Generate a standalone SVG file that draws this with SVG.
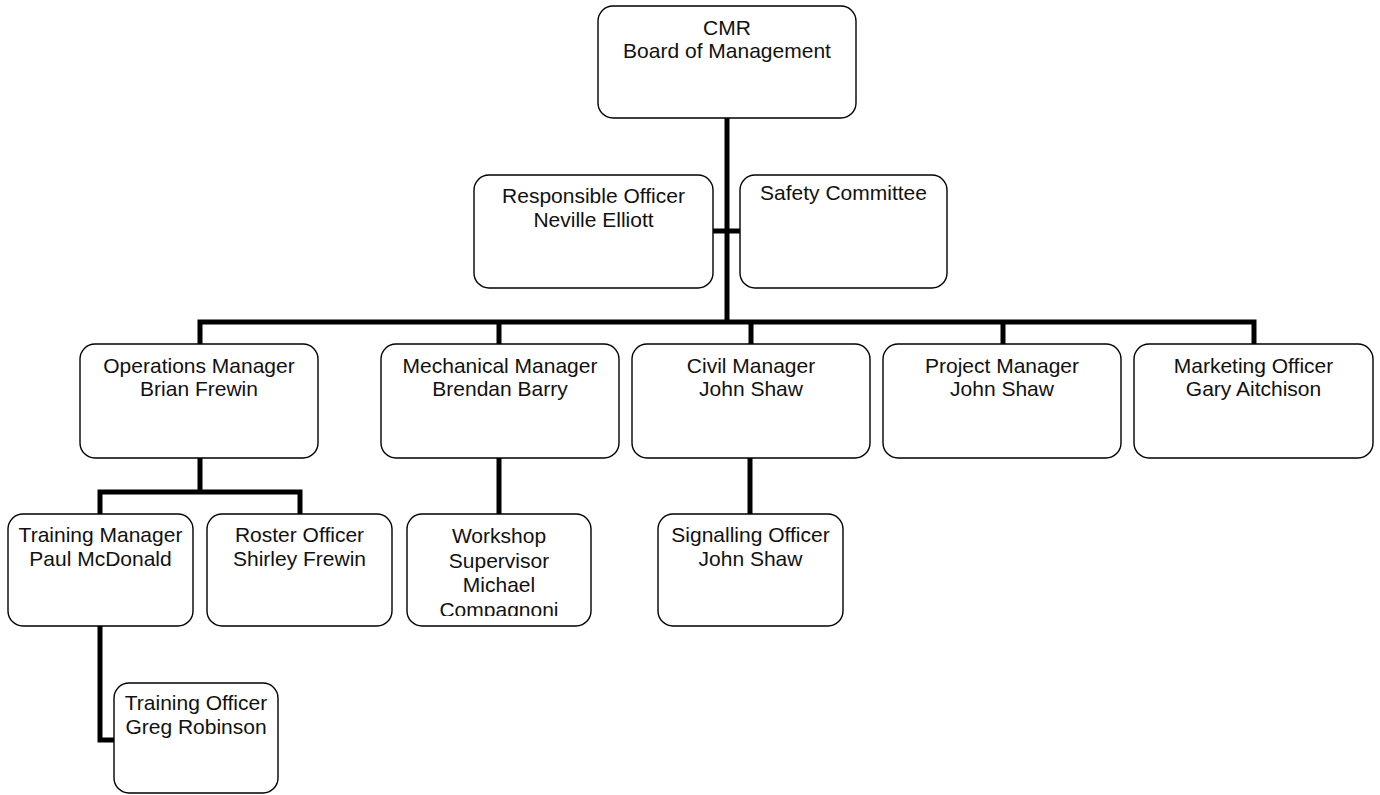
<svg xmlns="http://www.w3.org/2000/svg" width="1380" height="795" viewBox="0 0 1380 795">
<defs>
<style>
.box{fill:#fff;stroke:#000;stroke-width:1.4}
.t{font-family:"Liberation Sans",Arial,sans-serif;font-size:21px;fill:#111;text-anchor:middle}
.c{fill:none;stroke:#000;stroke-width:5;stroke-linejoin:miter;stroke-linecap:butt}
</style>
<clipPath id="wsclip"><rect x="407" y="514" width="184" height="102"/></clipPath>
</defs>
<rect width="1380" height="795" fill="#fff"/>
<g id="connectors">
<path class="c" d="M727,118 V322"/>
<path class="c" d="M713,231 H740"/>
<path class="c" d="M200,344 V322 H1254 V344"/>
<path class="c" d="M499,322 V344"/>
<path class="c" d="M751,322 V344"/>
<path class="c" d="M1003,322 V344"/>
<path class="c" d="M200,458 V492"/>
<path class="c" d="M100,514 V492 H300 V514"/>
<path class="c" d="M100,626 V740 H114"/>
<path class="c" d="M499,458 V514"/>
<path class="c" d="M750,458 V514"/>
</g>
<g id="cmr"><rect class="box" x="598" y="6" width="258" height="112" rx="15"/><text class="t" x="727" y="35">CMR</text><text class="t" x="727" y="58">Board of Management</text></g>
<g id="responsible"><rect class="box" x="474" y="175" width="239" height="113" rx="15"/><text class="t" x="593.5" y="203">Responsible Officer</text><text class="t" x="593.5" y="227">Neville Elliott</text></g>
<g id="safety"><rect class="box" x="740" y="175" width="207" height="113" rx="15"/><text class="t" x="843.5" y="200">Safety Committee</text></g>
<g id="operations"><rect class="box" x="80" y="344" width="238" height="114" rx="15"/><text class="t" x="199" y="373">Operations Manager</text><text class="t" x="199" y="396">Brian Frewin</text></g>
<g id="mechanical"><rect class="box" x="381" y="344" width="238" height="114" rx="15"/><text class="t" x="500" y="373">Mechanical Manager</text><text class="t" x="500" y="396">Brendan Barry</text></g>
<g id="civil"><rect class="box" x="632" y="344" width="238" height="114" rx="15"/><text class="t" x="751" y="373">Civil Manager</text><text class="t" x="751" y="396">John Shaw</text></g>
<g id="project"><rect class="box" x="883" y="344" width="238" height="114" rx="15"/><text class="t" x="1002" y="373">Project Manager</text><text class="t" x="1002" y="396">John Shaw</text></g>
<g id="marketing"><rect class="box" x="1134" y="344" width="239" height="114" rx="15"/><text class="t" x="1253.5" y="373">Marketing Officer</text><text class="t" x="1253.5" y="396">Gary Aitchison</text></g>
<g id="training-manager"><rect class="box" x="8" y="514" width="185" height="112" rx="15"/><text class="t" x="100.5" y="542">Training Manager</text><text class="t" x="100.5" y="566">Paul McDonald</text></g>
<g id="roster"><rect class="box" x="207" y="514" width="185" height="112" rx="15"/><text class="t" x="299.5" y="542">Roster Officer</text><text class="t" x="299.5" y="566">Shirley Frewin</text></g>
<g id="workshop"><rect class="box" x="407" y="514" width="184" height="112" rx="15"/><g clip-path="url(#wsclip)"><text class="t" x="499" y="543">Workshop</text><text class="t" x="499" y="568">Supervisor</text><text class="t" x="499" y="592">Michael</text><text class="t" x="499" y="617">Compagnoni</text></g></g>
<g id="signalling"><rect class="box" x="658" y="514" width="185" height="112" rx="15"/><text class="t" x="750.5" y="542">Signalling Officer</text><text class="t" x="750.5" y="566">John Shaw</text></g>
<g id="training-officer"><rect class="box" x="114" y="683" width="164" height="110" rx="15"/><text class="t" x="196" y="710">Training Officer</text><text class="t" x="196" y="734">Greg Robinson</text></g>
</svg>
